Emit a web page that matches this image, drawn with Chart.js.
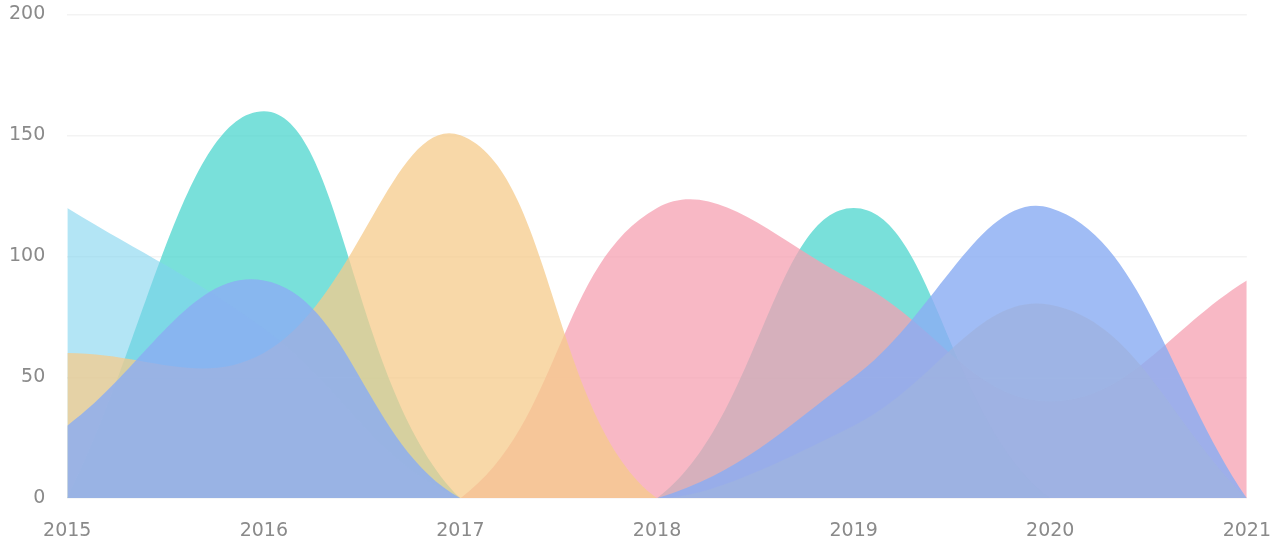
<!DOCTYPE html>
<html>
<head>
<meta charset="utf-8">
<script src="https://cdn.jsdelivr.net/npm/chart.js@4/dist/chart.umd.min.js"></script>
<style>
    html, body { margin: 0; padding: 0; background: #ffffff; }
    #wrap { width: 1273px; height: 544px; }
</style>
</head>
<body>
<div id="wrap"><canvas id="areaChart"></canvas></div>
<script>
const YEARS = ['2015', '2016', '2017', '2018', '2019', '2020', '2021'];
const Y_TICKS = [0, 50, 100, 150, 200];

// dataset 0 is drawn on top
const BLUE_VALUES = [30, 90, 0, 0, 50, 120, 0];
const ORANGE_VALUES = [60, 60, 150, 0, 30, 80, 0];
const PINK_VALUES = [0, 0, 0, 120, 90, 40, 90];
const SKY_VALUES = [120, 70, 0, 0, 0, 0, 0];
const TEAL_VALUES = [0, 160, 0, 0, 120, 0, 0];

const SERIES_COLORS = [
    'rgba(139, 173, 243, 0.82)',
    'rgba(246, 203, 139, 0.75)',
    'rgba(246, 160, 178, 0.75)',
    'rgba(128, 212, 238, 0.6)',
    'rgba(64, 211, 202, 0.7)'
];

function makeArea(label, values, color) {
    return {
        label: label,
        data: values,
        backgroundColor: color,
        borderWidth: 0,
        borderColor: color,
        pointRadius: 0,
        pointHoverRadius: 0,
        tension: 0.4,
        fill: 'origin'
    };
}

const canvas = document.getElementById('areaChart');
new Chart(canvas, {
    type: 'line',
    data: {
        labels: YEARS,
        datasets: [
            makeArea('Blue', BLUE_VALUES, SERIES_COLORS[0]),
            makeArea('Orange', ORANGE_VALUES, SERIES_COLORS[1]),
            makeArea('Pink', PINK_VALUES, SERIES_COLORS[2]),
            makeArea('Sky', SKY_VALUES, SERIES_COLORS[3]),
            makeArea('Teal', TEAL_VALUES, SERIES_COLORS[4])
        ]
    },
    options: {
        responsive: true,
        maintainAspectRatio: false,
        animation: false,
        layout: { padding: { left: 6, top: 0, right: 0, bottom: 0 } },
        plugins: {
            legend: { display: false },
            tooltip: { enabled: false }
        },
        scales: {
            x: {
                offset: false,
                grid: { display: false, drawTicks: true, tickLength: 19 },
                border: { display: false },
                ticks: {
                    color: '#8a8a8a',
                    padding: 2,
                    maxRotation: 0,
                    font: { family: 'DejaVu Sans', size: 19 }
                }
            },
            y: {
                min: Y_TICKS[0],
                max: Y_TICKS[Y_TICKS.length - 1],
                grid: {
                    color: '#f3f3f3',
                    lineWidth: 1.5,
                    drawTicks: true,
                    tickLength: 19,
                    tickColor: 'rgba(0,0,0,0)'
                },
                border: { display: false },
                afterBuildTicks: (scale) => {
                    scale.ticks = Y_TICKS.map(v => ({ value: v }));
                },
                ticks: {
                    color: '#8a8a8a',
                    padding: 3,
                    font: { family: 'DejaVu Sans', size: 19 }
                }
            }
        }
    }
});
</script>
</body>
</html>
